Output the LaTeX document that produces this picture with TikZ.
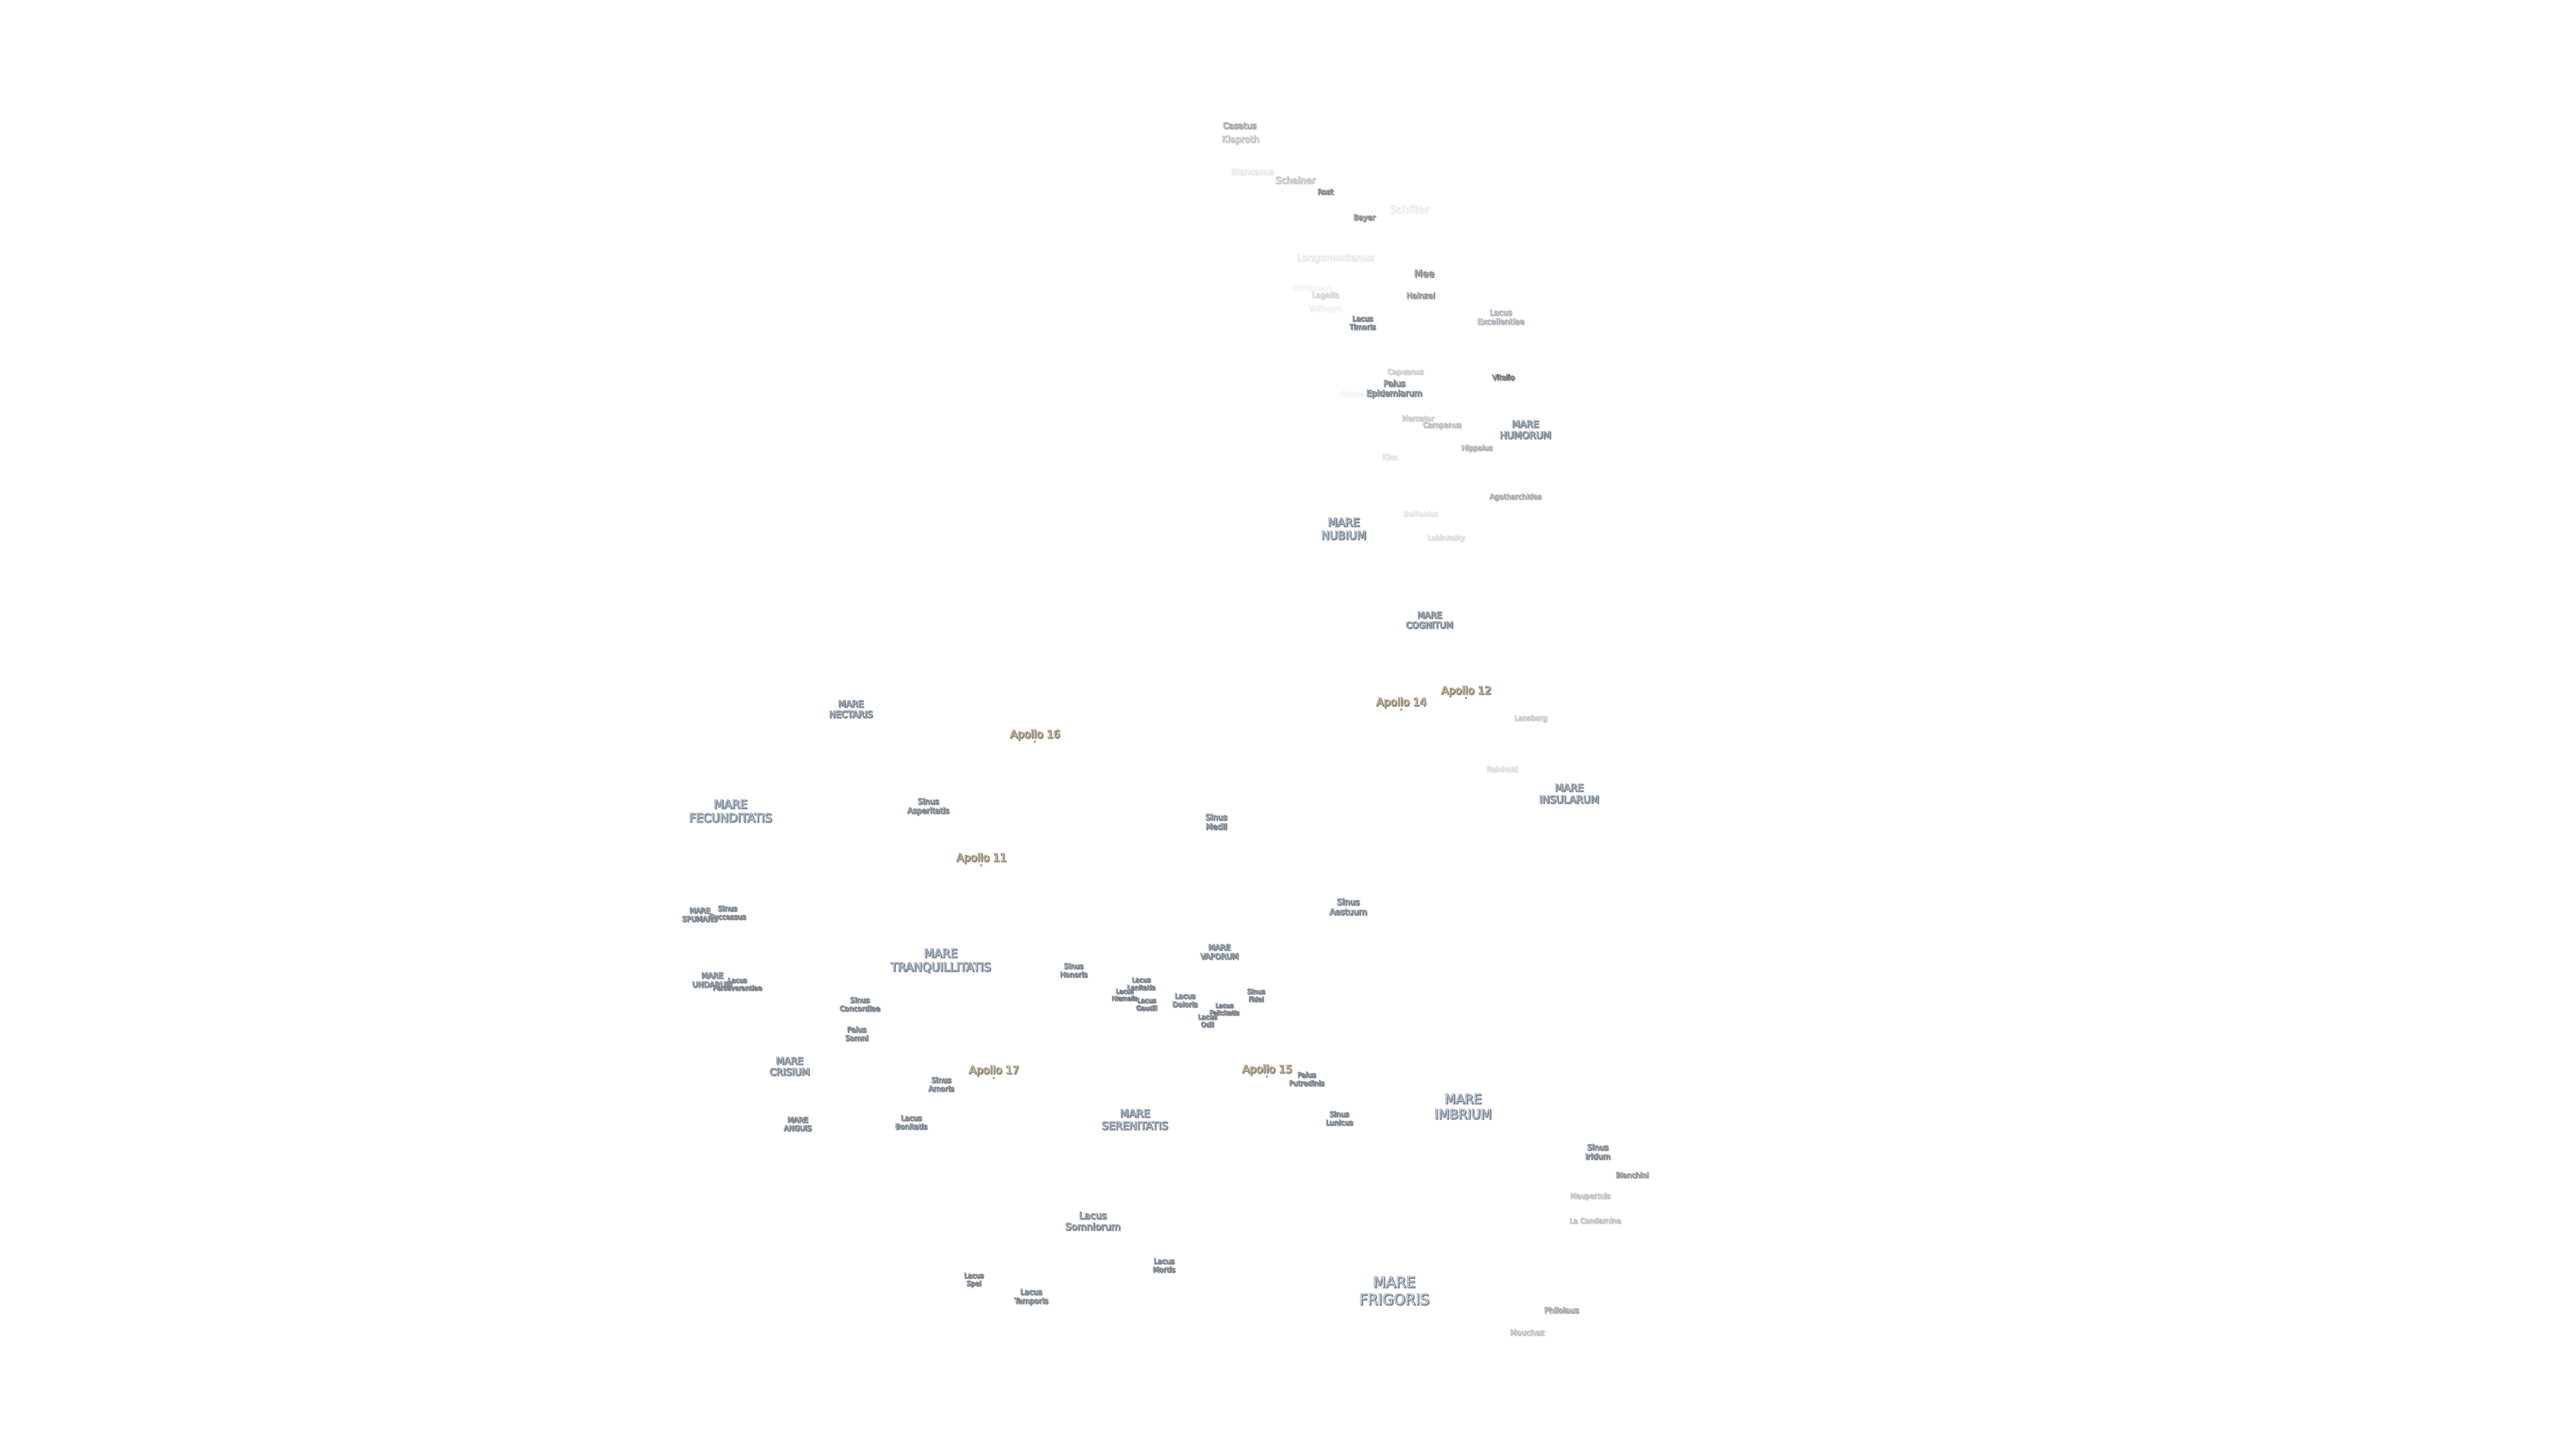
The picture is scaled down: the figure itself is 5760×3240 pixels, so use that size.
\documentclass[tikz,border=0pt]{standalone}
\usepackage{fontspec}
\setmainfont{DejaVu Sans}
\definecolor{mfill}{HTML}{CCE4FF}
\definecolor{mline}{HTML}{566472}
\definecolor{afill}{HTML}{FFE2AC}
\definecolor{aline}{HTML}{665A4E}
\definecolor{cfill}{HTML}{F2F2F2}
\definecolor{cline}{HTML}{404040}
\definecolor{shd}{HTML}{8E8E8E}
\definecolor{dotc}{HTML}{C89A40}
\makeatletter
\newcommand\outl[2]{\pgfsetstrokecolor{#1}\pgfsys@invoke{2 Tr #2 w }}
\newcommand\outlend{\pgfsys@invoke{0 Tr }}
\makeatother
\newcommand\fsz[1]{\fontsize{\fpeval{#1*0.25}pt}{\fpeval{#1*0.25*1.17}pt}\selectfont}
\tikzset{lbltext/.style={inner sep=0pt,outer sep=0pt,align=center},
  landdot/.style={circle,fill=dotc,draw=aline,line width=0.1pt,minimum size=1.1pt,inner sep=0pt}}
% name, x, y, font px, kind, strength %, text
\newcommand\lab[7]{%
  \colorlet{lbf}{#5fill!#6!white}\colorlet{lbk}{#5line!#6!white}\colorlet{lbs}{shd!#6!white}%
  \node[lbltext,text=lbs,font=\fsz{#4}] (#1s) at (#2+2,#3+2) {\outl{lbs}{0.5}#7\outlend};
  \node[lbltext,text=lbf,font=\fsz{#4}] (#1) at (#2,#3) {\outl{lbk}{0.12}#7\outlend};
}
\begin{document}
\begin{tikzpicture}[x=0.25pt,y=-0.25pt]
\useasboundingbox (0,0) rectangle (5760,3240);
% craters
\lab{casatus}{2771}{280}{18.8}{c}{70}{Casatus}
\lab{klaproth}{2773}{312}{19.9}{c}{45}{Klaproth}
\lab{blancanus}{2800}{383}{18.5}{c}{16}{Blancanus}
\lab{scheiner}{2896}{402}{20.4}{c}{45}{Scheiner}
\lab{rost}{2963}{428}{16.4}{c}{90}{Rost}
\lab{schiller}{3150}{467}{24}{c}{14}{Schiller}
\lab{bayer}{3050}{487}{16.8}{c}{85}{Bayer}
\lab{longomontanus}{2985}{577}{21.3}{c}{16}{Longomontanus}
\lab{mee}{3184}{611}{21.4}{c}{90}{Mee}
\lab{montanari}{2933}{643}{17.2}{c}{8}{Montanari}
\lab{lagalla}{2963}{660}{17.2}{c}{30}{Lagalla}
\lab{hainzel}{3176}{660}{17.3}{c}{80}{Hainzel}
\lab{wilhelm}{2963}{689}{18.4}{c}{11}{Wilhelm}
\lab{capuanus}{3142}{832}{16.2}{c}{36}{Capuanus}
\lab{vitello}{3361}{843}{16.2}{c}{100}{Vitello}
\lab{cichus}{3023}{880}{16}{c}{8}{Cichus}
\lab{mercator}{3170}{935}{16.2}{c}{38}{Mercator}
\lab{campanus}{3224}{951}{16.1}{c}{50}{Campanus}
\lab{hippalus}{3302}{1002}{16}{c}{58}{Hippalus}
\lab{kies}{3107}{1021}{16}{c}{20}{Kies}
\lab{agatharchides}{3388}{1111}{16.1}{c}{62}{Agatharchides}
\lab{bullialdus}{3176}{1148}{15.9}{c}{18}{Bullialdus}
\lab{lubiniezky}{3233}{1203}{15.8}{c}{24}{Lubiniezky}
\lab{lansberg}{3422}{1606}{16}{c}{38}{Lansberg}
\lab{reinhold}{3358}{1719}{15.8}{c}{24}{Reinhold}
\lab{bianchini}{3649}{2627}{16}{c}{78}{Bianchini}
\lab{maupertuis}{3555}{2675}{16}{c}{44}{Maupertuis}
\lab{lacondamine}{3566}{2729}{16}{c}{44}{La Condamine}
\lab{philolaus}{3491}{2929}{17.4}{c}{68}{Philolaus}
\lab{mouchez}{3414}{2979}{17.3}{c}{46}{Mouchez}
% seas, lakes, bays, marshes
\lab{excellentiae}{3355}{708}{17.3}{m}{60}{Lacus\\Excellentiae}
\lab{timoris}{3046}{721}{16}{m}{100}{Lacus\\Timoris}
\lab{epidemiarum}{3117}{869}{18.7}{m}{100}{Palus\\Epidemiarum}
\lab{humorum}{3410}{960}{21.2}{m}{100}{MARE\\HUMORUM}
\lab{nubium}{3004}{1182}{24.9}{m}{100}{MARE\\NUBIUM}
\lab{cognitum}{3196}{1386}{19.2}{m}{100}{MARE\\COGNITUM}
\lab{nectaris}{1902}{1585}{19.9}{m}{100}{MARE\\NECTARIS}
\lab{insularum}{3508}{1774}{22.5}{m}{100}{MARE\\INSULARUM}
\lab{fecunditatis}{1633}{1813}{26}{m}{100}{MARE\\FECUNDITATIS}
\lab{asperitatis}{2075}{1803}{17.5}{m}{100}{Sinus\\Asperitatis}
\lab{medii}{2719}{1837}{18}{m}{100}{Sinus\\Medii}
\lab{aestuum}{3014}{2027}{18.8}{m}{100}{Sinus\\Aestuum}
\lab{spumans}{1564}{2045}{16.1}{m}{100}{MARE\\SPUMANS}
\lab{successus}{1626}{2040}{15.8}{m}{100}{Sinus\\Successus}
\lab{undarum}{1592}{2191}{17.2}{m}{100}{MARE\\UNDARUM}
\lab{perseverantiae}{1648}{2200}{14.6}{m}{100}{Lacus\\Perseverantiae}
\lab{tranquillitatis}{2103}{2148}{26.1}{m}{100}{MARE\\TRANQUILLITATIS}
\lab{concordiae}{1922}{2245}{16}{m}{100}{Sinus\\Concordiae}
\lab{somni}{1915}{2311}{16.3}{m}{100}{Palus\\Somni}
\lab{crisium}{1765}{2384}{21.3}{m}{100}{MARE\\CRISIUM}
\lab{amoris}{2104}{2424}{16.4}{m}{100}{Sinus\\Amoris}
\lab{anguis}{1783}{2513}{16}{m}{100}{MARE\\ANGUIS}
\lab{bonitatis}{2037}{2509}{16.2}{m}{100}{Lacus\\Bonitatis}
\lab{honoris}{2400}{2169}{16}{m}{100}{Sinus\\Honoris}
\lab{vaporum}{2726}{2128}{17.2}{m}{100}{MARE\\VAPORUM}
\lab{lenitatis}{2551}{2199}{14.6}{m}{100}{Lacus\\Lenitatis}
\lab{hiemalis}{2514}{2224}{13.5}{m}{100}{Lacus\\Hiemalis}
\lab{gaudii}{2563}{2245}{14.6}{m}{100}{Lacus\\Gaudii}
\lab{doloris}{2649}{2236}{16}{m}{100}{Lacus\\Doloris}
\lab{felicitatis}{2737}{2256}{13.9}{m}{100}{Lacus\\Felicitatis}
\lab{odii}{2699}{2282}{14.7}{m}{100}{Lacus\\Odii}
\lab{fidei}{2808}{2225}{14.7}{m}{100}{Sinus\\Fidei}
\lab{putredinis}{2921}{2412}{15.9}{m}{100}{Palus\\Putredinis}
\lab{serenitatis}{2537}{2503}{23.5}{m}{100}{MARE\\SERENITATIS}
\lab{lunicus}{2994}{2500}{16}{m}{100}{Sinus\\Lunicus}
\lab{imbrium}{3271}{2474}{28.9}{m}{100}{MARE\\IMBRIUM}
\lab{iridum}{3572}{2575}{17.5}{m}{100}{Sinus\\Iridum}
\lab{somniorum}{2443}{2730}{21.4}{m}{100}{Lacus\\Somniorum}
\lab{mortis}{2602}{2829}{16.1}{m}{100}{Lacus\\Mortis}
\lab{spei}{2177}{2862}{15}{m}{100}{Lacus\\Spei}
\lab{temporis}{2305}{2900}{16.9}{m}{100}{Lacus\\Temporis}
\lab{frigoris}{3117}{2886}{33}{m}{100}{MARE\\FRIGORIS}
% landing sites
\lab{apxii}{3278}{1545}{23.9}{a}{100}{Apollo 12}
\lab{apxiv}{3133}{1571}{23.9}{a}{100}{Apollo 14}
\lab{apxvi}{2314}{1643}{23.9}{a}{100}{Apollo 16}
\lab{apxi}{2194}{1919}{23.9}{a}{100}{Apollo 11}
\lab{apxv}{2833}{2392}{23.9}{a}{100}{Apollo 15}
\lab{apxvii}{2222}{2394}{23.9}{a}{100}{Apollo 17}
\node[landdot] (dotxii) at (3278,1561) {};
\node[landdot] (dotxiv) at (3133,1587) {};
\node[landdot] (dotxvi) at (2314,1659) {};
\node[landdot] (dotxi) at (2194,1935) {};
\node[landdot] (dotxv) at (2833,2408) {};
\node[landdot] (dotxvii) at (2222,2411) {};
\end{tikzpicture}
\end{document}
